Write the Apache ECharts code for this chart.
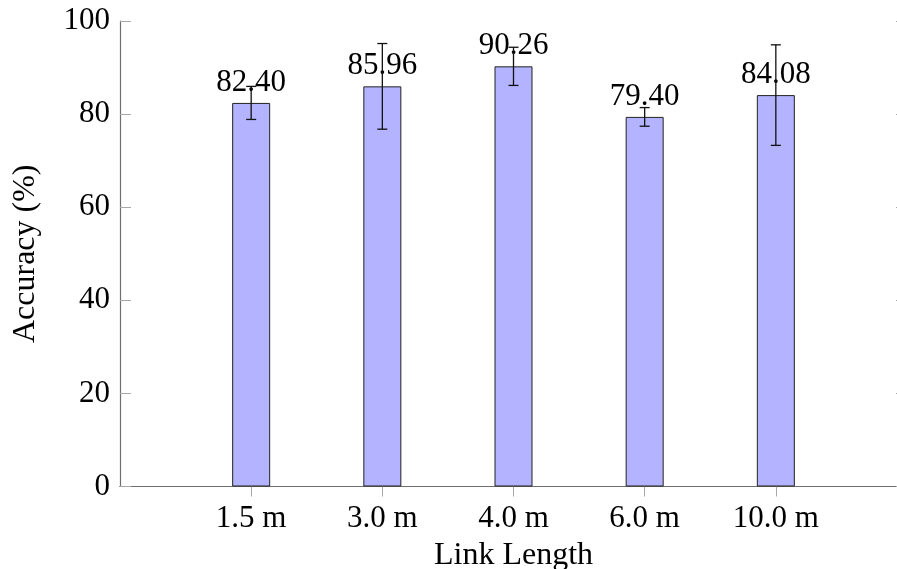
<!DOCTYPE html>
<html>
<head>
<meta charset="utf-8">
<script src="https://cdn.jsdelivr.net/npm/echarts@6/dist/echarts.min.js"></script>
<style>
  html, body { margin: 0; padding: 0; background: #fff; }
  #chart { width: 897px; height: 569px; }
</style>
</head>
<body>
<div id="chart"></div>
<script>
// Link length categories and measured accuracy (mean ± spread)
const categories = ['1.5 m', '3.0 m', '4.0 m', '6.0 m', '10.0 m'];
const accuracy = [82.40, 85.96, 90.26, 79.40, 84.08];
const errors = [3.55, 9.2, 4.1, 2.0, 10.8];
const yTicks = [0, 20, 40, 60, 80, 100];

// The x range is widened by one empty slot on each side
const slots = [''].concat(categories, ['']);
const FONT = 'Liberation Serif';
const SPINE = '#6e6e6e';
const TICK = '#a8a8a8';

const barData = categories.map((c, i) => [c, accuracy[i]]);
const errData = categories.map((c, i) => [c, accuracy[i] - errors[i], accuracy[i] + errors[i]]);

function xAxisAt(position, extra) {
  return Object.assign({
    type: 'category',
    data: slots,
    boundaryGap: false,
    position: position,
    axisLine: { show: true, lineStyle: { color: SPINE, width: 1.2 } },
    axisTick: {
      show: true, inside: false, length: 10,
      interval: (idx) => idx > 0 && idx < slots.length - 1,
      lineStyle: { color: TICK, width: 1 }
    },
    axisLabel: { show: false },
    splitLine: { show: false }
  }, extra || {});
}

function yAxisAt(position, extra) {
  return Object.assign({
    type: 'value',
    position: position,
    min: yTicks[0],
    max: yTicks[yTicks.length - 1],
    interval: 20,
    axisLine: { show: true, lineStyle: { color: SPINE, width: 1.2 } },
    axisTick: { show: true, inside: true, length: 11, lineStyle: { color: TICK, width: 1 } },
    axisLabel: { show: false },
    splitLine: { show: false }
  }, extra || {});
}

const chart = echarts.init(document.getElementById('chart'), null, { renderer: 'canvas' });
chart.setOption({
  animation: false,
  backgroundColor: '#fff',
  textStyle: { fontFamily: FONT },
  grid: { left: 120, top: 21, width: 787, height: 465.5, containLabel: false, outerBoundsMode: 'none' },
  xAxis: [
    xAxisAt('bottom', {
      name: 'Link Length',
      nameLocation: 'middle',
      nameGap: 41,
      nameTextStyle: { fontFamily: FONT, fontSize: 32, color: '#000' },
      axisLabel: { show: true, margin: 17, interval: 0, fontFamily: FONT, fontSize: 31, color: '#000' }
    }),
    xAxisAt('top')
  ],
  yAxis: [
    yAxisAt('left', {
      name: 'Accuracy (%)',
      nameLocation: 'middle',
      nameGap: 78,
      nameTextStyle: { fontFamily: FONT, fontSize: 32, color: '#000' },
      axisLabel: { show: true, margin: 10, fontFamily: FONT, fontSize: 31, color: '#000' }
    }),
    yAxisAt('right')
  ],
  series: [
    {
      type: 'bar',
      data: barData,
      barWidth: 38,
      itemStyle: { color: '#b3b3ff', borderColor: '#222', borderWidth: 1 },
      label: {
        show: true,
        position: 'top',
        distance: 5,
        fontFamily: FONT,
        fontSize: 31,
        color: '#000',
        formatter: (p) => p.value[1].toFixed(2)
      },
      z: 2
    },
    {
      type: 'custom',
      data: errData,
      z: 10,
      renderItem: (params, api) => {
        const x = api.value(0);
        const lo = api.coord([x, api.value(1)]);
        const hi = api.coord([x, api.value(2)]);
        const half = 5;
        const style = { stroke: '#111', lineWidth: 1.3 };
        return {
          type: 'group',
          children: [
            { type: 'line', shape: { x1: lo[0], y1: lo[1], x2: hi[0], y2: hi[1] }, style },
            { type: 'line', shape: { x1: lo[0] - half, y1: lo[1], x2: lo[0] + half, y2: lo[1] }, style },
            { type: 'line', shape: { x1: hi[0] - half, y1: hi[1], x2: hi[0] + half, y2: hi[1] }, style }
          ]
        };
      }
    }
  ]
});
</script>
</body>
</html>
